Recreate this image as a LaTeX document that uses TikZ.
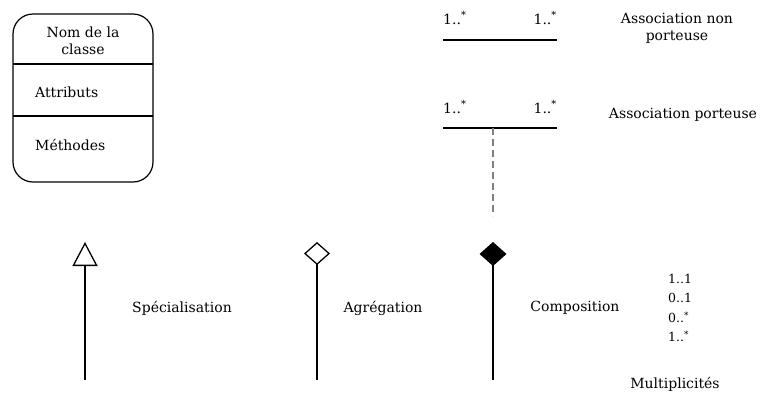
\documentclass[tikz,border=0pt]{standalone}
\usepackage{fontspec}
\setmainfont{DejaVu Serif}
\usetikzlibrary{arrows.meta,positioning}

\tikzset{
	lbl/.style={font=\fontsize{14}{17}\selectfont, inner sep=0pt, align=center},
	mult/.style={font=\fontsize{12.5}{19.5}\selectfont, inner sep=0pt, align=left},
	assoc/.style={line width=2.6pt},
	lien/.style={line width=2.6pt},
}

\begin{document}
\begin{tikzpicture}[x=1pt,y=-1pt]
		\useasboundingbox (0,0) rectangle (765,394);

		% classe
		\draw[line width=1.2pt, rounded corners=20pt] (13,14) rectangle (153,182);
		\draw[line width=2.2pt]
			(13,64) -- (153,64)
			(13,116) -- (153,116);
		\node[lbl] (nom) at (83,41) {Nom de la\\classe};
		\node[lbl, anchor=west] (attr) at (35,92) {Attributs};
		\node[lbl, anchor=west] (meth) at (35,145) {Méthodes};

		% associations
		\coordinate (a1g) at (443,40);
		\coordinate (a1d) at (557,40);
		\coordinate (a2g) at (443,128);
		\coordinate (a2d) at (557,128);
		\coordinate (a2m) at (493,128);
		\coordinate (a2b) at (493,216);
		\draw[assoc] (a1g) -- (a1d);
		\draw[assoc] (a2g) -- (a2d);
		\draw[line width=2pt, gray, dash pattern=on 7pt off 4pt] (a2m) -- (a2b);
		\node[lbl, anchor=west] (m1g) at (443,18) {1..\textsuperscript{*}};
		\node[lbl, anchor=east] (m1d) at (557,18) {1..\textsuperscript{*}};
		\node[lbl, anchor=west] (m2g) at (443,107) {1..\textsuperscript{*}};
		\node[lbl, anchor=east] (m2d) at (557,107) {1..\textsuperscript{*}};
		\node[lbl] (nonport) at (677,28) {Association non\\porteuse};
		\node[lbl] (port) at (683,115) {Association porteuse};

		% liens
		\coordinate (sb) at (85,380);
		\coordinate (sh) at (85,242);
		\coordinate (ab) at (317,380);
		\coordinate (ah) at (317,242);
		\coordinate (cb) at (493,380);
		\coordinate (ch) at (493,242);
		\draw[lien, -{Triangle[open, length=24pt, width=25pt, line width=1.3pt]}] (sb) -- (sh);
		\draw[lien, -{Diamond[open, length=23pt, width=26pt, line width=1.3pt]}] (ab) -- (ah);
		\draw[lien, -{Diamond[length=24pt, width=27pt]}] (cb) -- (ch);
		\node[lbl] (spec) at (182,308) {Spécialisation};
		\node[lbl] (agr) at (383,308) {Agrégation};
		\node[lbl] (comp) at (575,308) {Composition};

		% multiplicites
		\node[mult, anchor=north west] (mults) at (668,274) {1..1\\0..1\\0..\textsuperscript{*}\\1..\textsuperscript{*}};
		\node[lbl] (multi) at (675,384) {Multiplicités};

\end{tikzpicture}
\end{document}
